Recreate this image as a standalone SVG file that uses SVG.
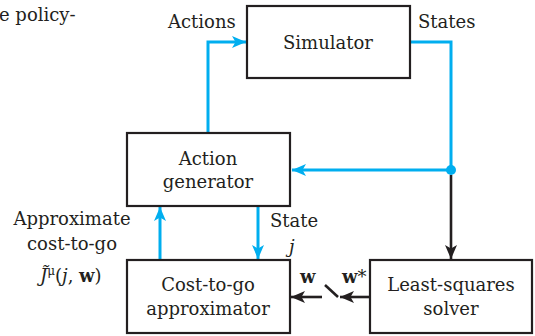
<svg xmlns="http://www.w3.org/2000/svg" width="535" height="336" viewBox="0 0 535 336">
<defs>
<style>
.box{fill:#fff;stroke:#231f20;stroke-width:2.2}
.t{font-family:"DejaVu Serif","Liberation Serif",serif;font-size:18px;fill:#231f20}
.c{text-anchor:middle}
.blue{fill:none;stroke:#00aeef;stroke-width:3}
.blk{fill:none;stroke:#231f20;stroke-width:2.6}
</style>
<marker id="ab" viewBox="0 0 14 12" refX="14" refY="6" markerWidth="14" markerHeight="12" markerUnits="userSpaceOnUse" orient="auto">
<path d="M0,0 L14,6 L0,12 L3.5,6 z" fill="#00aeef"/>
</marker>
<marker id="ak" viewBox="0 0 14 12" refX="14" refY="6" markerWidth="14" markerHeight="12" markerUnits="userSpaceOnUse" orient="auto">
<path d="M0,0 L14,6 L0,12 L3.5,6 z" fill="#231f20"/>
</marker>
</defs>
<rect width="535" height="336" fill="#fff"/>
<text class="t" x="-1" y="21">e policy-</text>
<g id="connectors">
<polyline class="blue" points="208,133 208,42 246,42" marker-end="url(#ab)"/>
<polyline class="blue" points="410,42 451,42 451,170 292,170" marker-end="url(#ab)"/>
<circle cx="451" cy="170" r="5" fill="#00aeef"/>
<line class="blk" x1="451" y1="175" x2="451" y2="259" marker-end="url(#ak)"/>
<line class="blue" x1="160" y1="260" x2="160" y2="207" marker-end="url(#ab)"/>
<line class="blue" x1="258" y1="206" x2="258" y2="259" marker-end="url(#ab)"/>
<line class="blk" x1="370" y1="297" x2="340" y2="297" marker-end="url(#ak)"/>
<line class="blk" x1="325" y1="285" x2="338" y2="297"/>
<line class="blk" x1="322" y1="297" x2="291" y2="297" marker-end="url(#ak)"/>
</g>
<g id="simulator">
<rect class="box" x="247" y="6" width="163" height="72"/>
<text class="t c" x="328" y="49">Simulator</text>
</g>
<g id="action-generator">
<rect class="box" x="127" y="133" width="163" height="73"/>
<text class="t c" x="208" y="165">Action</text>
<text class="t c" x="208" y="188">generator</text>
</g>
<g id="cost-to-go">
<rect class="box" x="127" y="260" width="163" height="73"/>
<text class="t c" x="208" y="291">Cost-to-go</text>
<text class="t c" x="208" y="315">approximator</text>
</g>
<g id="least-squares">
<rect class="box" x="370" y="260" width="162" height="73"/>
<text class="t c" x="451" y="291">Least-squares</text>
<text class="t c" x="451" y="315">solver</text>
</g>
<g id="labels">
<text class="t" x="168" y="28">Actions</text>
<text class="t" x="418" y="28">States</text>
<text class="t c" x="72" y="225">Approximate</text>
<text class="t c" x="72" y="250">cost-to-go</text>
<text class="t" x="40" y="282"><tspan font-style="italic">J̃</tspan><tspan font-size="12" dy="-7">μ</tspan><tspan dy="7">(</tspan><tspan font-style="italic">j</tspan>, <tspan font-weight="bold">w</tspan>)</text>
<text class="t" x="270" y="227">State</text>
<text class="t" x="289" y="253" font-style="italic">j</text>
<text class="t" x="300" y="283" font-weight="bold">w</text>
<text class="t" x="342" y="283" font-weight="bold">w<tspan font-weight="normal">*</tspan></text>
</g>
</svg>
